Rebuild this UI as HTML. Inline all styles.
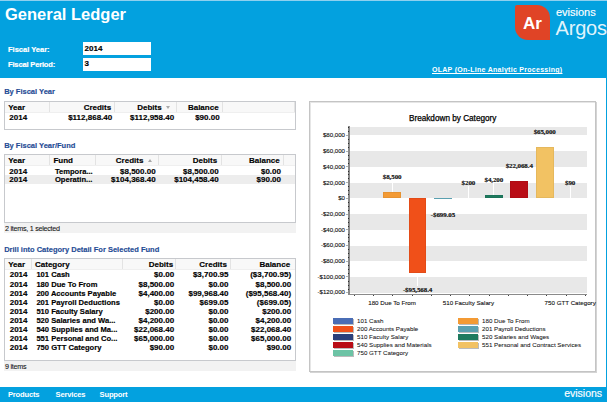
<!DOCTYPE html>
<html><head><meta charset="utf-8"><style>
html,body{margin:0;padding:0;}
body{width:607px;height:402px;overflow:hidden;position:relative;background:#fff;font-family:"Liberation Sans", sans-serif;}
.t{position:absolute;white-space:nowrap;}
.r{position:absolute;}
</style></head><body>
<div class="r" style="left:0px;top:0px;width:607px;height:78px;background:#03a1df;"></div>
<div class="r" style="left:0px;top:0px;width:607px;height:1px;background:#8fd0ef;"></div>
<div class="r" style="left:606px;top:78px;width:1px;height:309px;background:#03a1df;"></div>
<div class="r" style="left:0px;top:387px;width:607px;height:15px;background:#03a1df;"></div>
<div class="t" style="top:3px;font-size:16.5px;line-height:23.1px;color:#fff;font-weight:bold;left:5px;">General Ledger</div>
<div class="t" style="top:45px;font-size:7.5px;line-height:10.5px;color:#fff;font-weight:bold;-webkit-text-stroke:0.2px #fff;left:8px;">Fiscal Year:</div>
<div class="t" style="top:60px;font-size:7.5px;line-height:10.5px;color:#fff;font-weight:bold;letter-spacing:-0.15px;-webkit-text-stroke:0.2px #fff;left:8px;">Fiscal Period:</div>
<div class="r" style="left:83px;top:42.4px;width:68px;height:13.1px;background:#fff;"></div>
<div class="r" style="left:83px;top:58px;width:68px;height:12.8px;background:#fff;"></div>
<div class="t" style="top:43px;font-size:8px;line-height:11.2px;color:#000;font-weight:bold;-webkit-text-stroke:0.15px #000;left:84.6px;">2014</div>
<div class="t" style="top:58px;font-size:8px;line-height:11.2px;color:#000;font-weight:bold;-webkit-text-stroke:0.15px #000;left:84.6px;">3</div>
<svg class="r" style="left:515px;top:5px" width="35" height="35" viewBox="0 0 35 35"><path d="M2 0 H22 A13 13 0 0 1 35 13 V35 H13 A13 13 0 0 1 0 22 V2 A2 2 0 0 1 2 0Z" fill="#e04426"/></svg>
<div class="t" style="top:12px;font-size:17px;line-height:23.8px;color:#fff;font-weight:bold;left:523px;">Ar</div>
<div class="t" style="top:5px;font-size:11px;line-height:15.4px;color:#fff;font-weight:normal;-webkit-text-stroke:0.15px #fff;left:556px;">evisions</div>
<div class="t" style="top:14px;font-size:20px;line-height:28.0px;color:rgba(255,255,255,0.9);font-weight:normal;letter-spacing:-0.2px;left:555.6px;">Argos</div>
<div class="t" style="top:65px;font-size:7px;line-height:9.8px;color:#fff;font-weight:bold;letter-spacing:0.28px;left:432px;text-decoration:underline;">OLAP (On-Line Analytic Processing)</div>
<div class="t" style="top:390px;font-size:7.6px;line-height:10.64px;color:#fff;font-weight:bold;letter-spacing:-0.2px;left:8px;">Products</div>
<div class="t" style="top:390px;font-size:7.6px;line-height:10.64px;color:#fff;font-weight:bold;letter-spacing:-0.2px;left:55.6px;">Services</div>
<div class="t" style="top:390px;font-size:7.6px;line-height:10.64px;color:#fff;font-weight:bold;letter-spacing:-0.2px;left:99.6px;">Support</div>
<div class="t" style="top:386px;font-size:10.5px;line-height:14.7px;color:#fff;font-weight:normal;-webkit-text-stroke:0.15px #fff;left:564.2px;">evisions</div>
<div class="t" style="top:87px;font-size:7.5px;line-height:10.5px;color:#1f4c95;font-weight:bold;-webkit-text-stroke:0.15px #1f4c95;left:4.2px;">By Fiscal Year</div>
<div class="t" style="top:141px;font-size:7.5px;line-height:10.5px;color:#1f4c95;font-weight:bold;-webkit-text-stroke:0.15px #1f4c95;left:4.2px;">By Fiscal Year/Fund</div>
<div class="t" style="top:245px;font-size:7.5px;line-height:10.5px;color:#1f4c95;font-weight:bold;-webkit-text-stroke:0.15px #1f4c95;left:4.2px;">Drill into Category Detail For Selected Fund</div>
<div class="r" style="left:4px;top:101px;width:292px;height:29px;background:#fff;border:1px solid #c7c9cd;box-sizing:border-box;"></div>
<div class="r" style="left:5px;top:102px;width:290px;height:10px;background:#f8f8f8;"></div>
<div class="r" style="left:5px;top:112px;width:290px;height:1px;background:#efefef;"></div>
<div class="r" style="left:49px;top:102px;width:1px;height:10px;background:#e3e3e3;"></div>
<div class="r" style="left:114px;top:102px;width:1px;height:10px;background:#e3e3e3;"></div>
<div class="r" style="left:176px;top:102px;width:1px;height:10px;background:#e3e3e3;"></div>
<div class="r" style="left:222px;top:102px;width:1px;height:10px;background:#e3e3e3;"></div>
<div class="r" style="left:294px;top:102px;width:1px;height:10px;background:#e3e3e3;"></div>
<div class="t" style="top:102px;font-size:8px;line-height:11.2px;color:#000;font-weight:bold;-webkit-text-stroke:0.15px #000;left:8.2px;">Year</div>
<div class="t" style="top:102px;font-size:8px;line-height:11.2px;color:#000;font-weight:bold;-webkit-text-stroke:0.15px #000;right:495.80px;text-align:right;">Credits</div>
<div class="t" style="top:102px;font-size:8px;line-height:11.2px;color:#000;font-weight:bold;-webkit-text-stroke:0.15px #000;right:445.40px;text-align:right;">Debits</div>
<div class="t" style="top:102px;font-size:8px;line-height:11.2px;color:#000;font-weight:bold;-webkit-text-stroke:0.15px #000;right:388.40px;text-align:right;">Balance</div>
<div class="t" style="top:112px;font-size:8px;line-height:11.2px;color:#000;font-weight:bold;-webkit-text-stroke:0.15px #000;left:9.3px;">2014</div>
<div class="t" style="top:112px;font-size:8px;line-height:11.2px;color:#000;font-weight:bold;-webkit-text-stroke:0.15px #000;right:494.80px;text-align:right;">$112,868.40</div>
<div class="t" style="top:112px;font-size:8px;line-height:11.2px;color:#000;font-weight:bold;-webkit-text-stroke:0.15px #000;right:432.90px;text-align:right;">$112,958.40</div>
<div class="t" style="top:112px;font-size:8px;line-height:11.2px;color:#000;font-weight:bold;-webkit-text-stroke:0.15px #000;right:387.40px;text-align:right;">$90.00</div>
<div class="r" style="left:166.3px;top:105.5px;width:0;height:0;border-left:2.5px solid transparent;border-right:2.5px solid transparent;border-top:3px solid #a8a8a8;"></div>
<div class="r" style="left:4px;top:154px;width:292px;height:69px;background:#fff;border:1px solid #c7c9cd;box-sizing:border-box;"></div>
<div class="r" style="left:5px;top:155px;width:290px;height:10px;background:#f8f8f8;"></div>
<div class="r" style="left:5px;top:165px;width:290px;height:1px;background:#efefef;"></div>
<div class="r" style="left:49px;top:155px;width:1px;height:10px;background:#e3e3e3;"></div>
<div class="r" style="left:95px;top:155px;width:1px;height:10px;background:#e3e3e3;"></div>
<div class="r" style="left:158px;top:155px;width:1px;height:10px;background:#e3e3e3;"></div>
<div class="r" style="left:221px;top:155px;width:1px;height:10px;background:#e3e3e3;"></div>
<div class="r" style="left:283px;top:155px;width:1px;height:10px;background:#e3e3e3;"></div>
<div class="r" style="left:5px;top:175px;width:290px;height:9px;background:#ededed;"></div>
<div class="t" style="top:155px;font-size:8px;line-height:11.2px;color:#000;font-weight:bold;-webkit-text-stroke:0.15px #000;left:8.2px;">Year</div>
<div class="t" style="top:155px;font-size:8px;line-height:11.2px;color:#000;font-weight:bold;-webkit-text-stroke:0.15px #000;left:53.4px;">Fund</div>
<div class="t" style="top:155px;font-size:8px;line-height:11.2px;color:#000;font-weight:bold;-webkit-text-stroke:0.15px #000;right:463.60px;text-align:right;">Credits</div>
<div class="t" style="top:155px;font-size:8px;line-height:11.2px;color:#000;font-weight:bold;-webkit-text-stroke:0.15px #000;right:389.80px;text-align:right;">Debits</div>
<div class="t" style="top:155px;font-size:8px;line-height:11.2px;color:#000;font-weight:bold;-webkit-text-stroke:0.15px #000;right:327.30px;text-align:right;">Balance</div>
<div class="t" style="top:166px;font-size:8px;line-height:11.2px;color:#000;font-weight:bold;-webkit-text-stroke:0.15px #000;left:9.3px;">2014</div>
<div class="t" style="top:167px;font-size:7.6px;line-height:10.64px;color:#000;font-weight:bold;-webkit-text-stroke:0.15px #000;left:54.9px;">Tempora...</div>
<div class="t" style="top:166px;font-size:8px;line-height:11.2px;color:#000;font-weight:bold;-webkit-text-stroke:0.15px #000;right:451.40px;text-align:right;">$8,500.00</div>
<div class="t" style="top:166px;font-size:8px;line-height:11.2px;color:#000;font-weight:bold;-webkit-text-stroke:0.15px #000;right:388.30px;text-align:right;">$8,500.00</div>
<div class="t" style="top:166px;font-size:8px;line-height:11.2px;color:#000;font-weight:bold;-webkit-text-stroke:0.15px #000;right:326.00px;text-align:right;">$0.00</div>
<div class="t" style="top:174px;font-size:8px;line-height:11.2px;color:#000;font-weight:bold;-webkit-text-stroke:0.15px #000;left:9.3px;">2014</div>
<div class="t" style="top:175px;font-size:7.6px;line-height:10.64px;color:#000;font-weight:bold;-webkit-text-stroke:0.15px #000;left:54.9px;">Operatin...</div>
<div class="t" style="top:174px;font-size:8px;line-height:11.2px;color:#000;font-weight:bold;-webkit-text-stroke:0.15px #000;right:451.40px;text-align:right;">$104,368.40</div>
<div class="t" style="top:174px;font-size:8px;line-height:11.2px;color:#000;font-weight:bold;-webkit-text-stroke:0.15px #000;right:388.30px;text-align:right;">$104,458.40</div>
<div class="t" style="top:174px;font-size:8px;line-height:11.2px;color:#000;font-weight:bold;-webkit-text-stroke:0.15px #000;right:326.00px;text-align:right;">$90.00</div>
<div class="r" style="left:148px;top:159px;width:0;height:0;border-left:2.5px solid transparent;border-right:2.5px solid transparent;border-bottom:3px solid #a8a8a8;"></div>
<div class="r" style="left:4px;top:223px;width:292px;height:10px;background:#f2f2f2;"></div>
<div class="t" style="top:224px;font-size:7.2px;line-height:10.08px;color:#111;font-weight:normal;letter-spacing:-0.27px;-webkit-text-stroke:0.08px #111;left:5px;">2 items, 1 selected</div>
<div class="r" style="left:4px;top:258px;width:292px;height:103px;background:#fff;border:1px solid #c7c9cd;box-sizing:border-box;"></div>
<div class="r" style="left:5px;top:259px;width:290px;height:10px;background:#f8f8f8;"></div>
<div class="r" style="left:5px;top:269px;width:290px;height:1px;background:#efefef;"></div>
<div class="r" style="left:31px;top:259px;width:1px;height:10px;background:#e3e3e3;"></div>
<div class="r" style="left:122px;top:259px;width:1px;height:10px;background:#e3e3e3;"></div>
<div class="r" style="left:175px;top:259px;width:1px;height:10px;background:#e3e3e3;"></div>
<div class="r" style="left:230px;top:259px;width:1px;height:10px;background:#e3e3e3;"></div>
<div class="t" style="top:259px;font-size:8px;line-height:11.2px;color:#000;font-weight:bold;-webkit-text-stroke:0.15px #000;left:8.2px;">Year</div>
<div class="t" style="top:259px;font-size:8px;line-height:11.2px;color:#000;font-weight:bold;-webkit-text-stroke:0.15px #000;left:35px;">Category</div>
<div class="t" style="top:259px;font-size:8px;line-height:11.2px;color:#000;font-weight:bold;-webkit-text-stroke:0.15px #000;right:433.90px;text-align:right;">Debits</div>
<div class="t" style="top:259px;font-size:8px;line-height:11.2px;color:#000;font-weight:bold;-webkit-text-stroke:0.15px #000;right:380.10px;text-align:right;">Credits</div>
<div class="t" style="top:259px;font-size:8px;line-height:11.2px;color:#000;font-weight:bold;-webkit-text-stroke:0.15px #000;right:316.90px;text-align:right;">Balance</div>
<div class="t" style="top:269px;font-size:8px;line-height:11.2px;color:#000;font-weight:bold;-webkit-text-stroke:0.15px #000;left:9.7px;">2014</div>
<div class="t" style="top:270px;font-size:7.6px;line-height:10.64px;color:#000;font-weight:bold;-webkit-text-stroke:0.15px #000;left:36.4px;">101 Cash</div>
<div class="t" style="top:269px;font-size:8px;line-height:11.2px;color:#000;font-weight:bold;-webkit-text-stroke:0.15px #000;right:432.90px;text-align:right;">$0.00</div>
<div class="t" style="top:269px;font-size:8px;line-height:11.2px;color:#000;font-weight:bold;-webkit-text-stroke:0.15px #000;right:378.50px;text-align:right;">$3,700.95</div>
<div class="t" style="top:269px;font-size:8px;line-height:11.2px;color:#000;font-weight:bold;-webkit-text-stroke:0.15px #000;right:315.90px;text-align:right;">($3,700.95)</div>
<div class="t" style="top:279px;font-size:8px;line-height:11.2px;color:#000;font-weight:bold;-webkit-text-stroke:0.15px #000;left:9.7px;">2014</div>
<div class="t" style="top:280px;font-size:7.6px;line-height:10.64px;color:#000;font-weight:bold;-webkit-text-stroke:0.15px #000;left:36.4px;">180 Due To From</div>
<div class="t" style="top:279px;font-size:8px;line-height:11.2px;color:#000;font-weight:bold;-webkit-text-stroke:0.15px #000;right:432.90px;text-align:right;">$8,500.00</div>
<div class="t" style="top:279px;font-size:8px;line-height:11.2px;color:#000;font-weight:bold;-webkit-text-stroke:0.15px #000;right:378.50px;text-align:right;">$0.00</div>
<div class="t" style="top:279px;font-size:8px;line-height:11.2px;color:#000;font-weight:bold;-webkit-text-stroke:0.15px #000;right:315.90px;text-align:right;">$8,500.00</div>
<div class="t" style="top:288px;font-size:8px;line-height:11.2px;color:#000;font-weight:bold;-webkit-text-stroke:0.15px #000;left:9.7px;">2014</div>
<div class="t" style="top:289px;font-size:7.6px;line-height:10.64px;color:#000;font-weight:bold;-webkit-text-stroke:0.15px #000;left:36.4px;">200 Accounts Payable</div>
<div class="t" style="top:288px;font-size:8px;line-height:11.2px;color:#000;font-weight:bold;-webkit-text-stroke:0.15px #000;right:432.90px;text-align:right;">$4,400.00</div>
<div class="t" style="top:288px;font-size:8px;line-height:11.2px;color:#000;font-weight:bold;-webkit-text-stroke:0.15px #000;right:378.50px;text-align:right;">$99,968.40</div>
<div class="t" style="top:288px;font-size:8px;line-height:11.2px;color:#000;font-weight:bold;-webkit-text-stroke:0.15px #000;right:315.90px;text-align:right;">($95,568.40)</div>
<div class="t" style="top:297px;font-size:8px;line-height:11.2px;color:#000;font-weight:bold;-webkit-text-stroke:0.15px #000;left:9.7px;">2014</div>
<div class="t" style="top:298px;font-size:7.6px;line-height:10.64px;color:#000;font-weight:bold;-webkit-text-stroke:0.15px #000;left:36.4px;">201 Payroll Deductions</div>
<div class="t" style="top:297px;font-size:8px;line-height:11.2px;color:#000;font-weight:bold;-webkit-text-stroke:0.15px #000;right:432.90px;text-align:right;">$0.00</div>
<div class="t" style="top:297px;font-size:8px;line-height:11.2px;color:#000;font-weight:bold;-webkit-text-stroke:0.15px #000;right:378.50px;text-align:right;">$699.05</div>
<div class="t" style="top:297px;font-size:8px;line-height:11.2px;color:#000;font-weight:bold;-webkit-text-stroke:0.15px #000;right:315.90px;text-align:right;">($699.05)</div>
<div class="t" style="top:306px;font-size:8px;line-height:11.2px;color:#000;font-weight:bold;-webkit-text-stroke:0.15px #000;left:9.7px;">2014</div>
<div class="t" style="top:307px;font-size:7.6px;line-height:10.64px;color:#000;font-weight:bold;-webkit-text-stroke:0.15px #000;left:36.4px;">510 Faculty Salary</div>
<div class="t" style="top:306px;font-size:8px;line-height:11.2px;color:#000;font-weight:bold;-webkit-text-stroke:0.15px #000;right:432.90px;text-align:right;">$200.00</div>
<div class="t" style="top:306px;font-size:8px;line-height:11.2px;color:#000;font-weight:bold;-webkit-text-stroke:0.15px #000;right:378.50px;text-align:right;">$0.00</div>
<div class="t" style="top:306px;font-size:8px;line-height:11.2px;color:#000;font-weight:bold;-webkit-text-stroke:0.15px #000;right:315.90px;text-align:right;">$200.00</div>
<div class="t" style="top:315px;font-size:8px;line-height:11.2px;color:#000;font-weight:bold;-webkit-text-stroke:0.15px #000;left:9.7px;">2014</div>
<div class="t" style="top:316px;font-size:7.6px;line-height:10.64px;color:#000;font-weight:bold;-webkit-text-stroke:0.15px #000;left:36.4px;">520 Salaries and Wa...</div>
<div class="t" style="top:315px;font-size:8px;line-height:11.2px;color:#000;font-weight:bold;-webkit-text-stroke:0.15px #000;right:432.90px;text-align:right;">$4,200.00</div>
<div class="t" style="top:315px;font-size:8px;line-height:11.2px;color:#000;font-weight:bold;-webkit-text-stroke:0.15px #000;right:378.50px;text-align:right;">$0.00</div>
<div class="t" style="top:315px;font-size:8px;line-height:11.2px;color:#000;font-weight:bold;-webkit-text-stroke:0.15px #000;right:315.90px;text-align:right;">$4,200.00</div>
<div class="t" style="top:324px;font-size:8px;line-height:11.2px;color:#000;font-weight:bold;-webkit-text-stroke:0.15px #000;left:9.7px;">2014</div>
<div class="t" style="top:325px;font-size:7.6px;line-height:10.64px;color:#000;font-weight:bold;-webkit-text-stroke:0.15px #000;left:36.4px;">540 Supplies and Ma...</div>
<div class="t" style="top:324px;font-size:8px;line-height:11.2px;color:#000;font-weight:bold;-webkit-text-stroke:0.15px #000;right:432.90px;text-align:right;">$22,068.40</div>
<div class="t" style="top:324px;font-size:8px;line-height:11.2px;color:#000;font-weight:bold;-webkit-text-stroke:0.15px #000;right:378.50px;text-align:right;">$0.00</div>
<div class="t" style="top:324px;font-size:8px;line-height:11.2px;color:#000;font-weight:bold;-webkit-text-stroke:0.15px #000;right:315.90px;text-align:right;">$22,068.40</div>
<div class="t" style="top:333px;font-size:8px;line-height:11.2px;color:#000;font-weight:bold;-webkit-text-stroke:0.15px #000;left:9.7px;">2014</div>
<div class="t" style="top:334px;font-size:7.6px;line-height:10.64px;color:#000;font-weight:bold;-webkit-text-stroke:0.15px #000;left:36.4px;">551 Personal and Co...</div>
<div class="t" style="top:333px;font-size:8px;line-height:11.2px;color:#000;font-weight:bold;-webkit-text-stroke:0.15px #000;right:432.90px;text-align:right;">$65,000.00</div>
<div class="t" style="top:333px;font-size:8px;line-height:11.2px;color:#000;font-weight:bold;-webkit-text-stroke:0.15px #000;right:378.50px;text-align:right;">$0.00</div>
<div class="t" style="top:333px;font-size:8px;line-height:11.2px;color:#000;font-weight:bold;-webkit-text-stroke:0.15px #000;right:315.90px;text-align:right;">$65,000.00</div>
<div class="t" style="top:342px;font-size:8px;line-height:11.2px;color:#000;font-weight:bold;-webkit-text-stroke:0.15px #000;left:9.7px;">2014</div>
<div class="t" style="top:343px;font-size:7.6px;line-height:10.64px;color:#000;font-weight:bold;-webkit-text-stroke:0.15px #000;left:36.4px;">750 GTT Category</div>
<div class="t" style="top:342px;font-size:8px;line-height:11.2px;color:#000;font-weight:bold;-webkit-text-stroke:0.15px #000;right:432.90px;text-align:right;">$90.00</div>
<div class="t" style="top:342px;font-size:8px;line-height:11.2px;color:#000;font-weight:bold;-webkit-text-stroke:0.15px #000;right:378.50px;text-align:right;">$0.00</div>
<div class="t" style="top:342px;font-size:8px;line-height:11.2px;color:#000;font-weight:bold;-webkit-text-stroke:0.15px #000;right:315.90px;text-align:right;">$90.00</div>
<div class="r" style="left:4px;top:361px;width:292px;height:10px;background:#f2f2f2;"></div>
<div class="t" style="top:362px;font-size:7.2px;line-height:10.08px;color:#111;font-weight:normal;letter-spacing:-0.27px;-webkit-text-stroke:0.08px #111;left:5px;">9 items</div>
<div class="r" style="left:309px;top:101px;width:287px;height:271px;background:#fff;border:1px solid #c4c4c4;box-sizing:border-box;box-shadow:1px 1px 0 #d4d4d4, inset 1px 1px 0 #e6e6e6;"></div>
<div class="t" style="top:113px;font-size:8.2px;line-height:11.48px;color:#000;font-weight:normal;-webkit-text-stroke:0.25px #000;left:352.70px;width:200px;text-align:center;">Breakdown by Category</div>
<div class="r" style="left:350px;top:127px;width:237px;height:8px;background:#e8e8e8;"></div>
<div class="r" style="left:350px;top:151px;width:237px;height:16px;background:#e8e8e8;"></div>
<div class="r" style="left:350px;top:183px;width:237px;height:15px;background:#e8e8e8;"></div>
<div class="r" style="left:350px;top:214px;width:237px;height:16px;background:#e8e8e8;"></div>
<div class="r" style="left:350px;top:246px;width:237px;height:15px;background:#e8e8e8;"></div>
<div class="r" style="left:350px;top:277px;width:237px;height:16px;background:#e8e8e8;"></div>
<div class="r" style="left:348px;top:126px;width:2px;height:169px;background:#8a8a8a;"></div>
<div class="r" style="left:348px;top:294px;width:239px;height:1px;background:#8a8a8a;"></div>
<div class="r" style="left:348px;top:127px;width:1px;height:1px;background:#2a2a2a;"></div>
<div class="r" style="left:348px;top:131px;width:1px;height:1px;background:#2a2a2a;"></div>
<div class="r" style="left:348px;top:139px;width:1px;height:1px;background:#2a2a2a;"></div>
<div class="r" style="left:348px;top:143px;width:1px;height:1px;background:#2a2a2a;"></div>
<div class="r" style="left:348px;top:147px;width:1px;height:1px;background:#2a2a2a;"></div>
<div class="r" style="left:348px;top:155px;width:1px;height:1px;background:#2a2a2a;"></div>
<div class="r" style="left:348px;top:159px;width:1px;height:1px;background:#2a2a2a;"></div>
<div class="r" style="left:348px;top:163px;width:1px;height:1px;background:#2a2a2a;"></div>
<div class="r" style="left:348px;top:171px;width:1px;height:1px;background:#2a2a2a;"></div>
<div class="r" style="left:348px;top:174px;width:1px;height:1px;background:#2a2a2a;"></div>
<div class="r" style="left:348px;top:178px;width:1px;height:1px;background:#2a2a2a;"></div>
<div class="r" style="left:348px;top:186px;width:1px;height:1px;background:#2a2a2a;"></div>
<div class="r" style="left:348px;top:190px;width:1px;height:1px;background:#2a2a2a;"></div>
<div class="r" style="left:348px;top:194px;width:1px;height:1px;background:#2a2a2a;"></div>
<div class="r" style="left:348px;top:202px;width:1px;height:1px;background:#2a2a2a;"></div>
<div class="r" style="left:348px;top:206px;width:1px;height:1px;background:#2a2a2a;"></div>
<div class="r" style="left:348px;top:210px;width:1px;height:1px;background:#2a2a2a;"></div>
<div class="r" style="left:348px;top:218px;width:1px;height:1px;background:#2a2a2a;"></div>
<div class="r" style="left:348px;top:222px;width:1px;height:1px;background:#2a2a2a;"></div>
<div class="r" style="left:348px;top:226px;width:1px;height:1px;background:#2a2a2a;"></div>
<div class="r" style="left:348px;top:234px;width:1px;height:1px;background:#2a2a2a;"></div>
<div class="r" style="left:348px;top:237px;width:1px;height:1px;background:#2a2a2a;"></div>
<div class="r" style="left:348px;top:241px;width:1px;height:1px;background:#2a2a2a;"></div>
<div class="r" style="left:348px;top:249px;width:1px;height:1px;background:#2a2a2a;"></div>
<div class="r" style="left:348px;top:253px;width:1px;height:1px;background:#2a2a2a;"></div>
<div class="r" style="left:348px;top:257px;width:1px;height:1px;background:#2a2a2a;"></div>
<div class="r" style="left:348px;top:265px;width:1px;height:1px;background:#2a2a2a;"></div>
<div class="r" style="left:348px;top:269px;width:1px;height:1px;background:#2a2a2a;"></div>
<div class="r" style="left:348px;top:273px;width:1px;height:1px;background:#2a2a2a;"></div>
<div class="r" style="left:348px;top:281px;width:1px;height:1px;background:#2a2a2a;"></div>
<div class="r" style="left:348px;top:285px;width:1px;height:1px;background:#2a2a2a;"></div>
<div class="r" style="left:348px;top:289px;width:1px;height:1px;background:#2a2a2a;"></div>
<div class="r" style="left:346px;top:135px;width:2px;height:1px;background:#b0b0b0;"></div>
<div class="t" style="top:131px;font-size:6.1px;line-height:8.54px;color:#111;font-weight:normal;-webkit-text-stroke:0.12px #111;right:262.00px;text-align:right;">$80,000</div>
<div class="r" style="left:346px;top:151px;width:2px;height:1px;background:#b0b0b0;"></div>
<div class="t" style="top:147px;font-size:6.1px;line-height:8.54px;color:#111;font-weight:normal;-webkit-text-stroke:0.12px #111;right:262.00px;text-align:right;">$60,000</div>
<div class="r" style="left:346px;top:166px;width:2px;height:1px;background:#b0b0b0;"></div>
<div class="t" style="top:163px;font-size:6.1px;line-height:8.54px;color:#111;font-weight:normal;-webkit-text-stroke:0.12px #111;right:262.00px;text-align:right;">$40,000</div>
<div class="r" style="left:346px;top:182px;width:2px;height:1px;background:#b0b0b0;"></div>
<div class="t" style="top:179px;font-size:6.1px;line-height:8.54px;color:#111;font-weight:normal;-webkit-text-stroke:0.12px #111;right:262.00px;text-align:right;">$20,000</div>
<div class="r" style="left:346px;top:198px;width:2px;height:1px;background:#b0b0b0;"></div>
<div class="t" style="top:194px;font-size:6.1px;line-height:8.54px;color:#111;font-weight:normal;-webkit-text-stroke:0.12px #111;right:262.00px;text-align:right;">$0</div>
<div class="r" style="left:346px;top:214px;width:2px;height:1px;background:#b0b0b0;"></div>
<div class="t" style="top:210px;font-size:6.1px;line-height:8.54px;color:#111;font-weight:normal;-webkit-text-stroke:0.12px #111;right:262.00px;text-align:right;">-$20,000</div>
<div class="r" style="left:346px;top:229px;width:2px;height:1px;background:#b0b0b0;"></div>
<div class="t" style="top:226px;font-size:6.1px;line-height:8.54px;color:#111;font-weight:normal;-webkit-text-stroke:0.12px #111;right:262.00px;text-align:right;">-$40,000</div>
<div class="r" style="left:346px;top:245px;width:2px;height:1px;background:#b0b0b0;"></div>
<div class="t" style="top:241px;font-size:6.1px;line-height:8.54px;color:#111;font-weight:normal;-webkit-text-stroke:0.12px #111;right:262.00px;text-align:right;">-$60,000</div>
<div class="r" style="left:346px;top:261px;width:2px;height:1px;background:#b0b0b0;"></div>
<div class="t" style="top:257px;font-size:6.1px;line-height:8.54px;color:#111;font-weight:normal;-webkit-text-stroke:0.12px #111;right:262.00px;text-align:right;">-$80,000</div>
<div class="r" style="left:346px;top:276px;width:2px;height:1px;background:#b0b0b0;"></div>
<div class="t" style="top:273px;font-size:6.1px;line-height:8.54px;color:#111;font-weight:normal;-webkit-text-stroke:0.12px #111;right:262.00px;text-align:right;">-$100,000</div>
<div class="r" style="left:346px;top:292px;width:2px;height:1px;background:#b0b0b0;"></div>
<div class="t" style="top:288px;font-size:6.1px;line-height:8.54px;color:#111;font-weight:normal;-webkit-text-stroke:0.12px #111;right:262.00px;text-align:right;">-$120,000</div>
<div class="r" style="left:354px;top:295px;width:1px;height:1px;background:#444;"></div>
<div class="r" style="left:373px;top:295px;width:1px;height:1px;background:#444;"></div>
<div class="r" style="left:392px;top:295px;width:1px;height:1px;background:#444;"></div>
<div class="r" style="left:412px;top:295px;width:1px;height:1px;background:#444;"></div>
<div class="r" style="left:431px;top:295px;width:1px;height:1px;background:#444;"></div>
<div class="r" style="left:450px;top:295px;width:1px;height:1px;background:#444;"></div>
<div class="r" style="left:469px;top:295px;width:1px;height:1px;background:#444;"></div>
<div class="r" style="left:489px;top:295px;width:1px;height:1px;background:#444;"></div>
<div class="r" style="left:508px;top:295px;width:1px;height:1px;background:#444;"></div>
<div class="r" style="left:527px;top:295px;width:1px;height:1px;background:#444;"></div>
<div class="r" style="left:546px;top:295px;width:1px;height:1px;background:#444;"></div>
<div class="r" style="left:566px;top:295px;width:1px;height:1px;background:#444;"></div>
<div class="r" style="left:585px;top:295px;width:1px;height:1px;background:#444;"></div>
<div class="r" style="left:391.63px;top:179.7275px;width:1px;height:12.0px;background:#ffffff;"></div>
<div class="r" style="left:383.33px;top:191.73px;width:17.6px;height:6.67px;background:#f39a34;box-shadow:inset 0 0 0 1px rgba(0,0,0,0.05);"></div>
<div class="t" style="top:173px;font-size:7.0px;line-height:9.8px;color:#111;font-weight:bold;font-family:'Liberation Serif', serif;letter-spacing:-0.1px;-webkit-text-stroke:0.15px #111;left:362.13px;width:60px;text-align:center;">$8,500</div>
<div class="r" style="left:417.06px;top:273.421194px;width:1px;height:13.0px;background:#ffffff;"></div>
<div class="r" style="left:408.76px;top:198.4px;width:17.6px;height:75.02px;background:#f05019;box-shadow:inset 0 0 0 1px rgba(0,0,0,0.05);"></div>
<div class="t" style="top:286px;font-size:7.0px;line-height:9.8px;color:#111;font-weight:bold;font-family:'Liberation Serif', serif;letter-spacing:-0.1px;-webkit-text-stroke:0.15px #111;left:387.56px;width:60px;text-align:center;">-$95,568.4</div>
<div class="r" style="left:442.49px;top:198.94875425px;width:1px;height:13.0px;background:#ffffff;"></div>
<div class="r" style="left:434.19px;top:198.4px;width:17.6px;height:1px;background:#5aa0b0;"></div>
<div class="t" style="top:211px;font-size:7.0px;line-height:9.8px;color:#111;font-weight:bold;font-family:'Liberation Serif', serif;letter-spacing:-0.1px;-webkit-text-stroke:0.15px #111;left:412.99px;width:60px;text-align:center;">-$699.05</div>
<div class="r" style="left:467.92px;top:186.243px;width:1px;height:12.0px;background:#ffffff;"></div>
<div class="r" style="left:459.62px;top:198.24px;width:17.6px;height:0px;background:#2a3f7a;"></div>
<div class="t" style="top:179px;font-size:7.0px;line-height:9.8px;color:#111;font-weight:bold;font-family:'Liberation Serif', serif;letter-spacing:-0.1px;-webkit-text-stroke:0.15px #111;left:438.42px;width:60px;text-align:center;">$200</div>
<div class="r" style="left:493.35px;top:183.103px;width:1px;height:12.0px;background:#ffffff;"></div>
<div class="r" style="left:485.05px;top:195.1px;width:17.6px;height:3.3px;background:#1e7a5e;box-shadow:inset 0 0 0 1px rgba(0,0,0,0.05);"></div>
<div class="t" style="top:176px;font-size:7.0px;line-height:9.8px;color:#111;font-weight:bold;font-family:'Liberation Serif', serif;letter-spacing:-0.1px;-webkit-text-stroke:0.15px #111;left:463.85px;width:60px;text-align:center;">$4,200</div>
<div class="r" style="left:518.78px;top:169.07630600000002px;width:1px;height:12.0px;background:#ffffff;"></div>
<div class="r" style="left:510.48px;top:181.08px;width:17.6px;height:17.32px;background:#b90d16;box-shadow:inset 0 0 0 1px rgba(0,0,0,0.05);"></div>
<div class="t" style="top:162px;font-size:7.0px;line-height:9.8px;color:#111;font-weight:bold;font-family:'Liberation Serif', serif;letter-spacing:-0.1px;-webkit-text-stroke:0.15px #111;left:489.28px;width:60px;text-align:center;">$22,068.4</div>
<div class="r" style="left:544.21px;top:135.375px;width:1px;height:12.0px;background:#ffffff;"></div>
<div class="r" style="left:535.91px;top:147.38px;width:17.6px;height:51.03px;background:#f2c263;box-shadow:inset 0 0 0 1px rgba(0,0,0,0.05);"></div>
<div class="t" style="top:128px;font-size:7.0px;line-height:9.8px;color:#111;font-weight:bold;font-family:'Liberation Serif', serif;letter-spacing:-0.1px;-webkit-text-stroke:0.15px #111;left:514.71px;width:60px;text-align:center;">$65,000</div>
<div class="r" style="left:569.64px;top:186.32935px;width:1px;height:12.0px;background:#ffffff;"></div>
<div class="r" style="left:561.34px;top:198.33px;width:17.6px;height:0px;background:#6cc3a5;"></div>
<div class="t" style="top:179px;font-size:7.0px;line-height:9.8px;color:#111;font-weight:bold;font-family:'Liberation Serif', serif;letter-spacing:-0.1px;-webkit-text-stroke:0.15px #111;left:540.14px;width:60px;text-align:center;">$90</div>
<div class="t" style="top:299px;font-size:6.2px;line-height:8.68px;color:#111;font-weight:normal;-webkit-text-stroke:0.1px #111;left:352.10px;width:80px;text-align:center;">180 Due To From</div>
<div class="t" style="top:299px;font-size:6.2px;line-height:8.68px;color:#111;font-weight:normal;-webkit-text-stroke:0.1px #111;left:428.40px;width:80px;text-align:center;">510 Faculty Salary</div>
<div class="t" style="top:299px;font-size:6.2px;line-height:8.68px;color:#111;font-weight:normal;-webkit-text-stroke:0.1px #111;left:530.20px;width:80px;text-align:center;">750 GTT Category</div>
<div class="r" style="left:333px;top:317.8px;width:20px;height:6px;background:#4a6db5;box-shadow:1px 1px 0 #bbb;"></div>
<div class="t" style="top:317px;font-size:6.2px;line-height:8.68px;color:#111;font-weight:normal;-webkit-text-stroke:0.05px #111;left:357px;">101 Cash</div>
<div class="r" style="left:333px;top:326px;width:20px;height:6px;background:#f05019;box-shadow:1px 1px 0 #bbb;"></div>
<div class="t" style="top:325px;font-size:6.2px;line-height:8.68px;color:#111;font-weight:normal;-webkit-text-stroke:0.05px #111;left:357px;">200 Accounts Payable</div>
<div class="r" style="left:333px;top:334px;width:20px;height:6px;background:#2a3f7a;box-shadow:1px 1px 0 #bbb;"></div>
<div class="t" style="top:333px;font-size:6.2px;line-height:8.68px;color:#111;font-weight:normal;-webkit-text-stroke:0.05px #111;left:357px;">510 Faculty Salary</div>
<div class="r" style="left:333px;top:342px;width:20px;height:6px;background:#b90d16;box-shadow:1px 1px 0 #bbb;"></div>
<div class="t" style="top:341px;font-size:6.2px;line-height:8.68px;color:#111;font-weight:normal;-webkit-text-stroke:0.05px #111;left:357px;">540 Supplies and Materials</div>
<div class="r" style="left:333px;top:350px;width:20px;height:6px;background:#6cc3a5;box-shadow:1px 1px 0 #bbb;"></div>
<div class="t" style="top:349px;font-size:6.2px;line-height:8.68px;color:#111;font-weight:normal;-webkit-text-stroke:0.05px #111;left:357px;">750 GTT Category</div>
<div class="r" style="left:458px;top:317.8px;width:20px;height:6px;background:#f39a34;box-shadow:1px 1px 0 #bbb;"></div>
<div class="t" style="top:317px;font-size:6.2px;line-height:8.68px;color:#111;font-weight:normal;-webkit-text-stroke:0.05px #111;left:482px;">180 Due To From</div>
<div class="r" style="left:458px;top:326px;width:20px;height:6px;background:#5aa0b0;box-shadow:1px 1px 0 #bbb;"></div>
<div class="t" style="top:325px;font-size:6.2px;line-height:8.68px;color:#111;font-weight:normal;-webkit-text-stroke:0.05px #111;left:482px;">201 Payroll Deductions</div>
<div class="r" style="left:458px;top:334px;width:20px;height:6px;background:#1e7a5e;box-shadow:1px 1px 0 #bbb;"></div>
<div class="t" style="top:333px;font-size:6.2px;line-height:8.68px;color:#111;font-weight:normal;-webkit-text-stroke:0.05px #111;left:482px;">520 Salaries and Wages</div>
<div class="r" style="left:458px;top:342px;width:20px;height:6px;background:#f2c263;box-shadow:1px 1px 0 #bbb;"></div>
<div class="t" style="top:341px;font-size:6.2px;line-height:8.68px;color:#111;font-weight:normal;-webkit-text-stroke:0.05px #111;left:482px;">551 Personal and Contract Services</div>
</body></html>
